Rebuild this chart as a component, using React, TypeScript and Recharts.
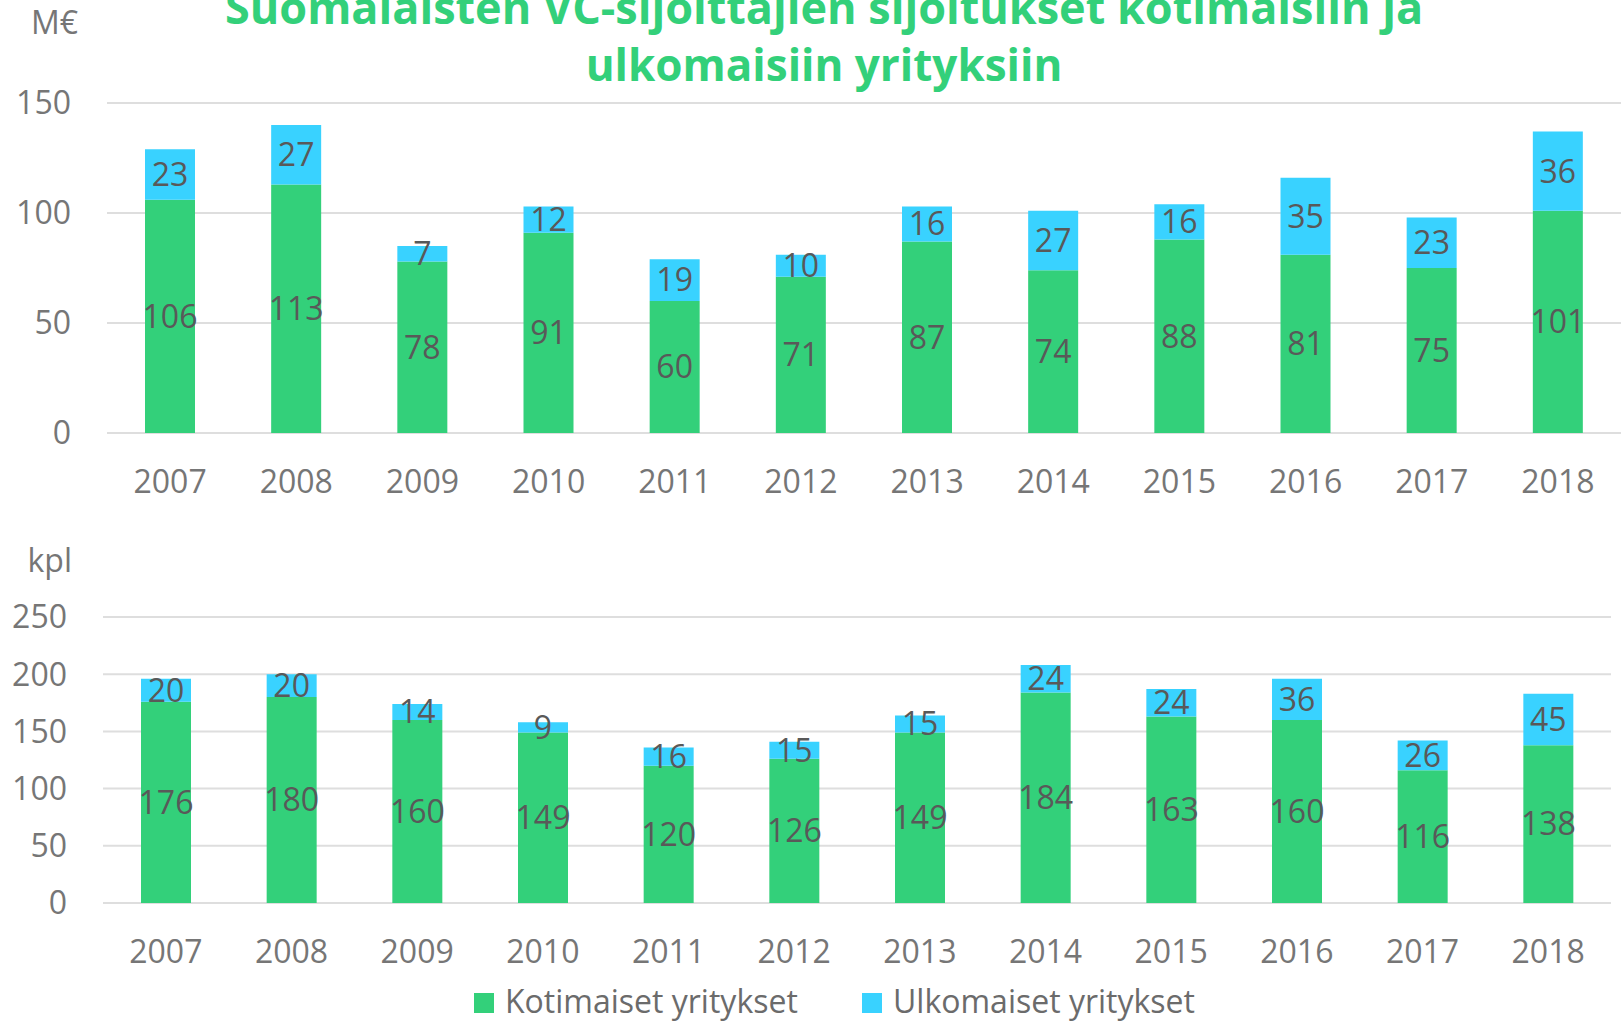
import React from 'react';
import { BarChart, Bar, XAxis, YAxis, CartesianGrid, LabelList } from 'recharts';

const years = ['2007', '2008', '2009', '2010', '2011', '2012', '2013', '2014', '2015', '2016', '2017', '2018'];
const eurDomestic = [106, 113, 78, 91, 60, 71, 87, 74, 88, 81, 75, 101];
const eurForeign = [23, 27, 7, 12, 19, 10, 16, 27, 16, 35, 23, 36];
const cntDomestic = [176, 180, 160, 149, 120, 126, 149, 184, 163, 160, 116, 138];
const cntForeign = [20, 20, 14, 9, 16, 15, 15, 24, 24, 36, 26, 45];
const eurTicks = [0, 50, 100, 150];
const cntTicks = [0, 50, 100, 150, 200, 250];
const seriesNames = ['Kotimaiset yritykset', 'Ulkomaiset yritykset'];
const titleLines = ['Suomalaisten VC-sijoittajien sijoitukset kotimaisiin ja', 'ulkomaisiin yrityksiin'];

const GREEN = '#33d07a';
const BLUE = '#39d2ff';
const FONT = '"Open Sans", sans-serif';
const TICK = { fill: '#767676', fontSize: 32, fontFamily: FONT };
const LABEL_STYLE = { fill: '#595959', fontSize: 32, fontFamily: FONT };

const eurData = years.map((y, i) => ({ year: y, koti: eurDomestic[i], ulko: eurForeign[i] }));
const cntData = years.map((y, i) => ({ year: y, koti: cntDomestic[i], ulko: cntForeign[i] }));

function Stacked({ data, ticks, max, yWidth, xHeight, top, right, bottom, height }: any) {
  return (
    <BarChart width={1621} height={height} data={data} margin={{ top, right, bottom, left: 0 }}>
      <CartesianGrid vertical={false} stroke="#dedede" strokeWidth={2} />
      <XAxis
        dataKey="year"
        axisLine={false}
        tickLine={false}
        tickSize={0}
        tickMargin={37}
        height={xHeight}
        tick={TICK}
        interval={0}
      />
      <YAxis
        domain={[0, max]}
        ticks={ticks}
        axisLine={false}
        tickLine={false}
        tickSize={0}
        tickMargin={36}
        width={yWidth}
        tick={TICK}
      />
      <Bar dataKey="koti" name={seriesNames[0]} stackId="a" fill={GREEN} barSize={50} isAnimationActive={false}>
        <LabelList dataKey="koti" position="center" style={LABEL_STYLE} />
      </Bar>
      <Bar dataKey="ulko" name={seriesNames[1]} stackId="a" fill={BLUE} barSize={50} isAnimationActive={false}>
        <LabelList dataKey="ulko" position="center" style={LABEL_STYLE} />
      </Bar>
    </BarChart>
  );
}

export default function App() {
  const legendX = [474, 862];
  const legendColors = [GREEN, BLUE];
  return (
    <div style={{ position: 'absolute', left: 0, top: 0, width: 1621, height: 1022, background: '#fff', overflow: 'hidden' }}>
      <div style={{ position: 'absolute', left: 0, top: 0 }}>
        <Stacked data={eurData} ticks={eurTicks} max={150} yWidth={107} xHeight={67} top={103} right={0} bottom={30} height={530} />
      </div>
      <div style={{ position: 'absolute', left: 0, top: 540 }}>
        <Stacked data={cntData} ticks={cntTicks} max={250} yWidth={103} xHeight={57} top={77} right={10} bottom={30} height={450} />
      </div>
      <svg width={1621} height={1022} style={{ position: 'absolute', left: 0, top: 0, pointerEvents: 'none' }}>
        <text x={824} y={24} textAnchor="middle" fill={GREEN} fontSize={45} fontWeight={700} fontFamily={FONT}>
          {titleLines[0]}
        </text>
        <text x={824} y={81} textAnchor="middle" fill={GREEN} fontSize={44} fontWeight={700} fontFamily={FONT}>
          {titleLines[1]}
        </text>
        <text x={78} y={34} textAnchor="end" fill="#767676" fontSize={32} fontFamily={FONT}>M€</text>
        <text x={72} y={572} textAnchor="end" fill="#767676" fontSize={32} fontFamily={FONT}>kpl</text>
        {seriesNames.map((name, i) => (
          <g key={name}>
            <rect x={legendX[i]} y={993} width={20} height={20} fill={legendColors[i]} />
            <text x={legendX[i] + 31} y={1013} fill="#6b6b6b" fontSize={32} fontFamily={FONT}>{name}</text>
          </g>
        ))}
      </svg>
    </div>
  );
}
